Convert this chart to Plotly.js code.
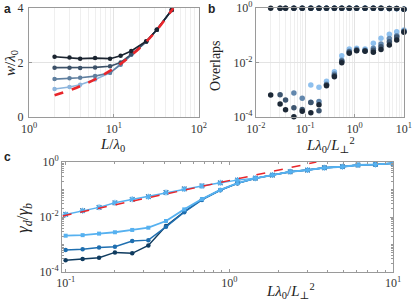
<!DOCTYPE html>
<html><head><meta charset="utf-8">
<script src="https://cdn.plot.ly/plotly-3.0.1.min.js"></script>
<style>html,body{margin:0;padding:0;background:#fff;}#c{width:416px;height:304px;}</style>
</head><body><div id="c"></div>
<script>
// ---------- Panel a ----------
const aL   = [2, 3, 4, 6, 9, 12, 16, 24, 32, 48];
const aW1  = [2.21, 2.18, 2.14, 2.16, 2.14, 2.25, 2.42, 2.78, 3.20, 3.92];
const aW2  = [1.81, 1.81, 1.80, 1.82, 1.86, 2.00, 2.30, 2.76, 3.20, 3.92];
const aW3  = [1.39, 1.42, 1.44, 1.50, 1.62, 1.92, 2.28, 2.76, 3.20, 3.92];
const aW4  = [1.03, 1.10, 1.18, 1.38, 1.62, 1.95, 2.30, 2.76, 3.20, 3.92];
const aFitL = [2, 3, 4, 6, 8, 12, 16, 24, 32, 50];
const aFitW = [0.80, 0.98, 1.13, 1.38, 1.60, 1.95, 2.26, 2.76, 3.19, 3.99];
const aTickX = [1, 10, 100];
const aTickXText = ['10<sup>0</sup>', '10<sup>1</sup>', '10<sup>2</sup>'];
const aTickY = [0, 2, 4];

// ---------- Panel b ----------
const bX = [0.02, 0.031, 0.04, 0.059, 0.087, 0.13, 0.19, 0.27, 0.39, 0.55, 0.78, 1.1, 1.63, 2.4, 3.43, 5.06, 7.14, 10];
const bLowBlack = [6.4e-4, 3.0e-4, 1.86e-4, 1.03e-4, 1.62e-4, 1.44e-4, 2.83e-4, 1.41e-3, 3.0e-3, 9.8e-3, 0.0218, 0.027, 0.026, 0.0237, 0.030, 0.044, 0.067, 0.128];
const bLowSlate = [6.6e-4, 4.2e-4, 2.2e-4, 1.9e-4, 3.4e-4, 1.7e-4, 1.5e-3, 3.3e-3, 0.011, 0.024, 0.028, 0.027, 0.028, 0.038, 0.058, 0.085, 0.14];
const bLowMid   = [7.6e-4, 4.9e-4, 3.5e-4, 3.7e-4, 1.6e-3, 3.8e-3, 0.012, 0.026, 0.030, 0.028, 0.033, 0.048, 0.075, 0.095, 0.14];
const bLowLight = [1.5e-3, 1.23e-3, 2.04e-3, 4.6e-3, 0.0175, 0.031, 0.033, 0.031, 0.051, 0.077, 0.108, 0.135, 0.156];
const bTopBlack = [0.97, 0.97, 0.97, 0.97, 0.97, 0.97, 0.97, 0.97, 0.97, 0.97, 0.97, 0.97, 0.97, 0.97, 0.97, 0.96, 0.95, 0.90];
const bTopSlate = [0.97, 0.97, 0.97, 0.97, 0.97, 0.97, 0.97, 0.97, 0.97, 0.97, 0.97, 0.97, 0.97, 0.97, 0.96, 0.95, 0.90];
const bTopMid   = [0.97, 0.97, 0.97, 0.97, 0.97, 0.97, 0.97, 0.97, 0.97, 0.97, 0.97, 0.97, 0.96, 0.95, 0.90];
const bTopLight = [0.97, 0.97, 0.97, 0.97, 0.97, 0.97, 0.97, 0.97, 0.97, 0.96, 0.95, 0.93, 0.90];
const bTickX = [0.01, 0.1, 1, 10];
const bTickXText = ['10<sup>-2</sup>', '10<sup>-1</sup>', '10<sup>0</sup>', '10<sup>1</sup>'];
const bTickY = [1e-4, 1e-2, 1];
const bTickYText = ['10<sup>-4</sup>', '10<sup>-2</sup>', '10<sup>0</sup>'];

// ---------- Panel c ----------
const cX = [0.1, 0.127, 0.16, 0.2, 0.255, 0.32, 0.41, 0.53, 0.68, 0.88, 1.12, 1.44, 1.83, 2.35, 3.0, 3.8, 4.9, 6.1, 7.8, 10];
const cUpper = [0.0125, 0.017, 0.0225, 0.033, 0.044, 0.055, 0.078, 0.105, 0.135, 0.175, 0.22, 0.26, 0.335, 0.44, 0.51, 0.62, 0.675, 0.78, 0.82, 0.90];
const cLight = [2.1e-3, 2.2e-3, 2.5e-3, 2.8e-3, 3.4e-3, 4.1e-3, 7.2e-3, 0.019, 0.045, 0.097, 0.17, 0.255, 0.337, 0.444, 0.51, 0.62, 0.675, 0.78, 0.82, 0.90];
const cMid   = [6.3e-4, 6.7e-4, 7.9e-4, 8.3e-4, 1.35e-3, 1.45e-3, 4.4e-3, 0.015, 0.042, 0.094, 0.168, 0.255, 0.337, 0.444, 0.51, 0.62, 0.675, 0.78, 0.82, 0.90];
const cDark  = [2.7e-4, 3.0e-4, 3.3e-4, 5.2e-4, 4.8e-4, 9.3e-4, 4.7e-3, 0.0156, 0.044, 0.096, 0.168, 0.255, 0.337, 0.444, 0.51, 0.62, 0.675, 0.78, 0.82, 0.90];
const cFitX = [0.096, 0.2, 0.5, 1, 2, 3.4];
const cFitY = [0.011, 0.028, 0.091, 0.22, 0.53, 1.0];
const cTickX = [0.1, 1, 10];
const cTickXText = ['10<sup>-1</sup>', '10<sup>0</sup>', '10<sup>1</sup>'];
const cTickY = [1e-4, 1e-2, 1];
const cTickYText = ['10<sup>-4</sup>', '10<sup>-2</sup>', '10<sup>0</sup>'];

const colA = ['#1b2430', '#3c5168', '#5f7f9f', '#8db5dd'];
const colB = ['#1c2836', '#3d556f', '#6287ad', '#8ec0ee'];
const RED = '#e8262b';

const traces = [];
// panel a
[[aW4, colA[3]], [aW3, colA[2]], [aW2, colA[1]], [aW1, colA[0]]].forEach(([w, c]) => {
  traces.push({x: aL, y: w, xaxis: 'x', yaxis: 'y', mode: 'lines+markers',
    line: {color: c, width: 1.6}, marker: {color: c, size: 4.5}});
});
traces.push({x: aFitL, y: aFitW, xaxis: 'x', yaxis: 'y', mode: 'lines',
  line: {color: RED, width: 2.6, dash: 'dash', shape: 'spline'}});

// panel b
const bSeries = [[bLowLight, bTopLight, colB[3]], [bLowMid, bTopMid, colB[2]], [bLowSlate, bTopSlate, colB[1]], [bLowBlack, bTopBlack, colB[0]]];
bSeries.forEach(([low, top, c]) => {
  const xs = bX.slice(bX.length - low.length);
  traces.push({x: xs, y: low, xaxis: 'x2', yaxis: 'y2', mode: 'markers', cliponaxis: false,
    marker: {color: c, size: 5.5}});
});
bSeries.forEach(([low, top, c]) => {
  const xs = bX.slice(bX.length - top.length);
  traces.push({x: xs, y: top, xaxis: 'x2', yaxis: 'y2', mode: 'markers', cliponaxis: false,
    marker: {color: c, size: 5.5}});
});

// panel c
traces.push({x: cX, y: cDark, xaxis: 'x3', yaxis: 'y3', mode: 'lines+markers',
  line: {color: '#0f3b5f', width: 1.5}, marker: {color: '#0f3b5f', size: 4.5}});
traces.push({x: cX, y: cMid, xaxis: 'x3', yaxis: 'y3', mode: 'lines+markers',
  line: {color: '#1f6fb0', width: 1.5}, marker: {color: '#1f6fb0', size: 4.5}});
traces.push({x: cX, y: cLight, xaxis: 'x3', yaxis: 'y3', mode: 'lines+markers',
  line: {color: '#56b1f0', width: 1.8}, marker: {color: '#56b1f0', size: 4, symbol: 'square'}});
traces.push({x: cX, y: cUpper, xaxis: 'x3', yaxis: 'y3', mode: 'markers',
  marker: {color: '#1a3f66', size: 4.5, symbol: 'x-thin-open', line: {width: 1.1}}});
traces.push({x: cX, y: cUpper, xaxis: 'x3', yaxis: 'y3', mode: 'lines+markers',
  line: {color: '#56b1f0', width: 1.5}, marker: {color: '#56b1f0', size: 5, symbol: 'asterisk-open', line: {width: 1.1}}});
traces.push({x: cFitX, y: cFitY, xaxis: 'x3', yaxis: 'y3', mode: 'lines',
  line: {color: RED, width: 1.5, dash: 'dash'}});

const tickFont = {family: 'Liberation Serif, DejaVu Serif, serif', size: 12, color: '#333'};
const boxAx = {showline: true, mirror: true, linecolor: '#9a9a9a', linewidth: 1, zeroline: false,
  ticks: 'inside', ticklen: 3, tickcolor: '#9a9a9a', tickfont: tickFont, tickmode: 'array', fixedrange: true};

const layout = {
  width: 416, height: 304, margin: {l: 0, r: 0, t: 0, b: 0},
  paper_bgcolor: '#fff', plot_bgcolor: '#fff', showlegend: false,
  font: {family: 'Liberation Serif, DejaVu Serif, serif', size: 12, color: '#222'},
  xaxis: Object.assign({}, boxAx, {type: 'log', domain: [0.0697, 0.478], range: [0, 2], anchor: 'y',
    tickvals: aTickX, ticktext: aTickXText, showgrid: true, gridcolor: '#e3e3e3', ticklabelstandoff: 1,
    minor: {showgrid: true, gridcolor: '#efefef', dtick: 'D1', ticks: ''}}),
  yaxis: Object.assign({}, boxAx, {domain: [0.615, 0.974], range: [0, 4], anchor: 'x',
    tickvals: aTickY, ticktext: aTickY.map(String), showgrid: true, gridcolor: '#e3e3e3', ticklabelstandoff: 2}),
  xaxis2: Object.assign({}, boxAx, {type: 'log', domain: [0.615, 0.971], range: [-2, 1], anchor: 'y2',
    tickvals: bTickX, ticktext: bTickXText, showgrid: true, gridcolor: '#e3e3e3', ticklabelstandoff: 1,
    minor: {showgrid: true, gridcolor: '#efefef', dtick: 'D1', ticks: ''}}),
  yaxis2: Object.assign({}, boxAx, {type: 'log', domain: [0.615, 0.974], range: [-4, 0], anchor: 'x2',
    tickvals: bTickY, ticktext: bTickYText, showgrid: true, gridcolor: '#e3e3e3'}),
  xaxis3: Object.assign({}, boxAx, {type: 'log', domain: [0.149, 0.945], range: [Math.log10(0.095), 1], anchor: 'y3',
    tickvals: cTickX, ticktext: cTickXText, showgrid: false, mirror: 'allticks',
    minor: {dtick: 'D1', ticks: 'inside', ticklen: 2, tickcolor: '#9a9a9a'}}),
  yaxis3: Object.assign({}, boxAx, {type: 'log', domain: [0.105, 0.467], range: [-4, 0], anchor: 'x3',
    tickvals: cTickY, ticktext: cTickYText, showgrid: false, mirror: 'allticks',
    minor: {dtick: 'D1', ticks: 'inside', ticklen: 2, tickcolor: '#9a9a9a'}}),
  annotations: []
};

function ann(text, px, py, size, angle, family) {
  layout.annotations.push({text: text, xref: 'paper', yref: 'paper', x: px / 416, y: 1 - py / 304,
    xanchor: 'center', yanchor: 'middle', showarrow: false, textangle: angle || 0,
    font: {size: size, color: '#222', family: family || 'Liberation Serif, DejaVu Serif, serif'}});
}
const sans = 'Liberation Sans, Arial, sans-serif';
ann('<b>a</b>', 7, 9, 12, 0, sans);
ann('<b>b</b>', 211, 9, 12, 0, sans);
ann('<b>c</b>', 7, 157, 12, 0, sans);
ann('<i>L</i>/<i>λ</i><sub>0</sub>', 113, 145, 15);
ann('<i>w</i>/<i>λ</i><sub>0</sub>', 11, 63, 15, -90);
ann('Overlaps', 216, 66, 14, -90);
ann('<i>Lλ</i><sub>0</sub>/<i>L</i><sub>⊥</sub><sup>2</sup>', 330, 145, 15);
ann('<i>γ<sub>d</sub></i>/<i>γ<sub>b</sub></i>', 24, 218, 17, -90);
ann('<i>Lλ</i><sub>0</sub>/<i>L</i><sub>⊥</sub><sup>2</sup>', 290, 291, 15);

Plotly.newPlot('c', traces, layout, {staticPlot: true, displayModeBar: false});
</script></body></html>
